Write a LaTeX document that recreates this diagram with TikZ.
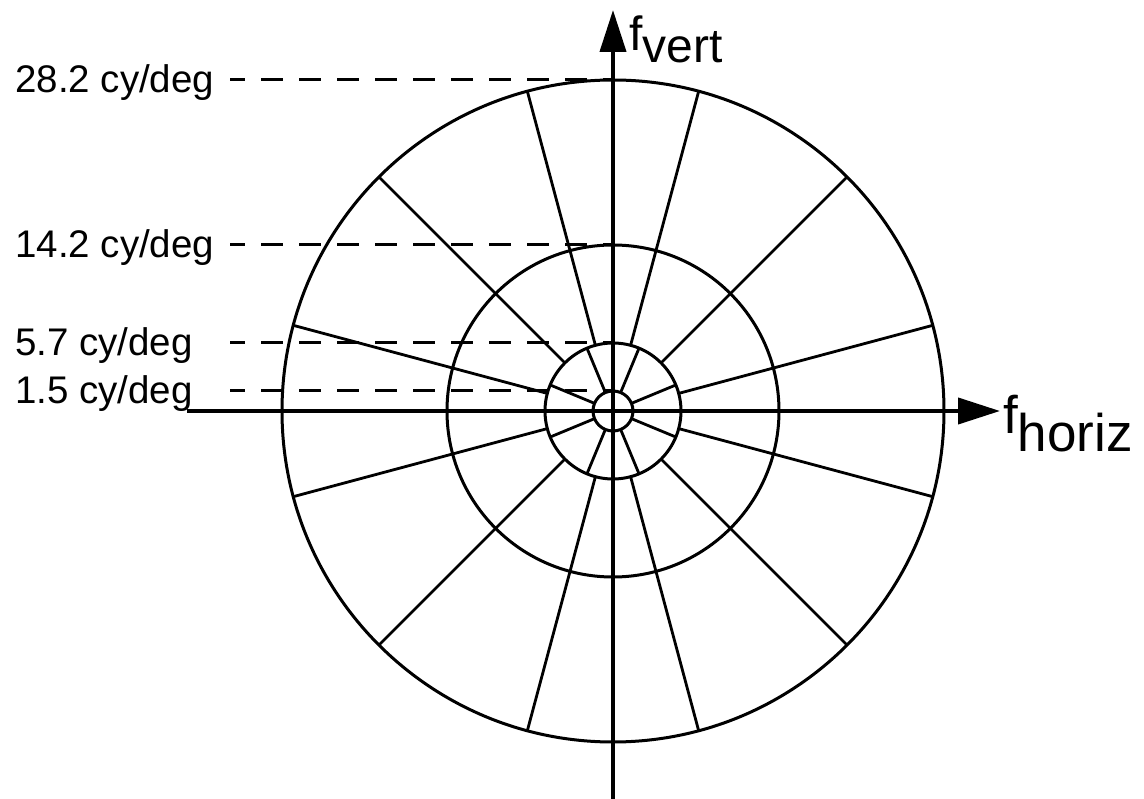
\documentclass[tikz,border=0pt]{standalone}
\usepackage{fontspec}
\setmainfont{Liberation Sans}
\usetikzlibrary{arrows.meta,calc}
\begin{document}
\begin{tikzpicture}[x=1pt,y=-1pt,
  ring/.style={line width=3pt},
  spoke/.style={line width=2.8pt},
  axis/.style={line width=4pt,-{Triangle[length=42pt,width=26pt]}},
  guide/.style={line width=3pt,dash pattern=on 22pt off 16pt,dash phase=7pt},
  lab/.style={anchor=base west,inner sep=0pt,font=\fontsize{38.5}{42}\selectfont},
  flab/.style={anchor=base west,inner sep=0pt,font=\fontsize{48}{54}\selectfont},
  flabh/.style={anchor=base west,inner sep=0pt,font=\fontsize{53}{58}\selectfont}]
\useasboundingbox (0,0) rectangle (1144,799);
\coordinate (C) at (613,411);
% rings
\foreach \r in {20,68,166,331} \draw[ring] (C) circle[radius=\r];
% outer spokes
\foreach \k in {0,...,11} {
  \pgfmathsetmacro{\ang}{15+30*\k}
  \draw[spoke] ($(C)+(\ang:68)$) -- ($(C)+(\ang:331)$);
}
% inner spokes
\foreach \k in {0,...,7} {
  \pgfmathsetmacro{\ang}{22.5+45*\k}
  \draw[spoke] ($(C)+(\ang:20)$) -- ($(C)+(\ang:68)$);
}
% guides and labels
\foreach \y/\t/\n in {80/28.2/g1,245/14.2/g2,343/5.7/g3,391/1.5/g4} {
  \coordinate (\n s) at (230,\y);
  \coordinate (\n e) at (613,\y);
  \draw[guide] (\n s) -- (\n e);
  \node[lab] (\n l) at (15,\y+13) {\t\ cy/deg};
}
% axes
\coordinate (xl) at (187,411);
\coordinate (xr) at (1000,411);
\coordinate (yb) at (613,799);
\coordinate (yt) at (613,10);
\draw[axis] (xl) -- (xr);
\draw[axis] (yb) -- (yt);
\node[flab] (fv) at (629,51) {f\raisebox{-12pt}{vert}};
\node[flabh] (fh) at (1003,434) {f\raisebox{-18pt}{horiz}};
\end{tikzpicture}
\end{document}
